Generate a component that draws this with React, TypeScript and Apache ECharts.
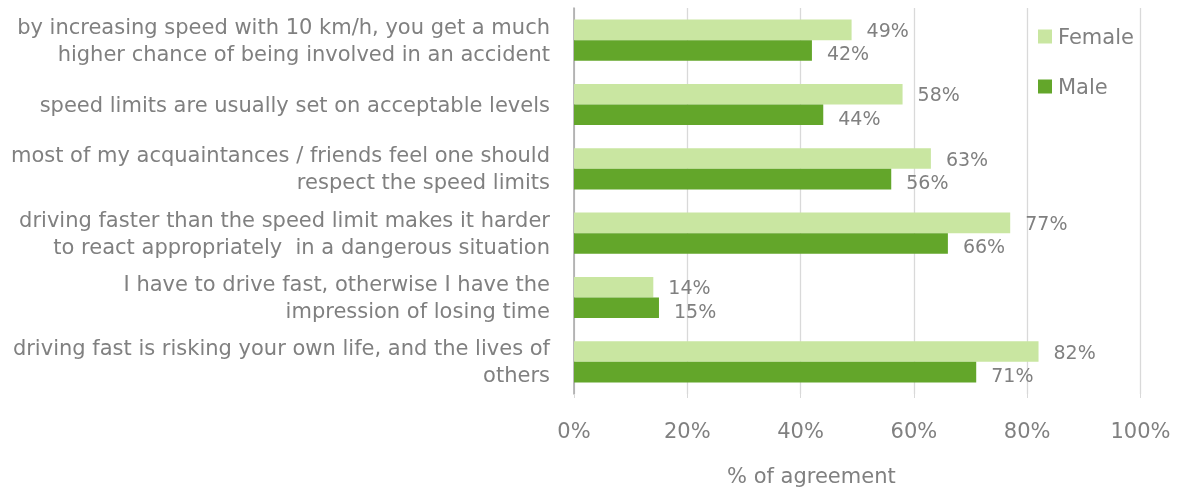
import React, { useEffect, useRef } from "react";
import * as echarts from "echarts";

const categories = [
  "by increasing speed with 10 km/h, you get a much\nhigher chance of being involved in an accident",
  "speed limits are usually set on acceptable levels",
  "most of my acquaintances / friends feel one should\nrespect the speed limits",
  "driving faster than the speed limit makes it harder\nto react appropriately  in a dangerous situation",
  "I have to drive fast, otherwise I have the\nimpression of losing time",
  "driving fast is risking your own life, and the lives of\nothers",
];
const female = [49, 58, 63, 77, 14, 82];
const male = [42, 44, 56, 66, 15, 71];
const seriesNames = ["Female", "Male"];
const axisTitle = "% of agreement";

const FONT = "DejaVu Sans, Verdana, sans-serif";
const GRAY = "#808080";
const FS = 21;

export default function App() {
  const ref = useRef<HTMLDivElement>(null);
  useEffect(() => {
    if (!ref.current) return;
    const chart = echarts.init(ref.current, null, { renderer: "svg" });
    const labelCfg = (dy: number) => ({
      show: true,
      position: "right",
      distance: 15,
      offset: [0, dy],
      formatter: (p: any) => p.value + "%",
      color: GRAY,
      fontSize: 19,
      fontFamily: FONT,
    });
    chart.setOption({
      animation: false,
      textStyle: { fontFamily: FONT },
      grid: {
        left: 574,
        top: 8,
        width: 566.5,
        height: 386,
        containLabel: false,
        outerBoundsMode: "none",
      },
      legend: {
        orient: "vertical",
        left: 1038,
        top: 26,
        padding: 0,
        icon: "rect",
        itemWidth: 14,
        itemHeight: 14,
        itemGap: 29,
        data: seriesNames,
        textStyle: { color: GRAY, fontSize: FS, fontFamily: FONT, padding: [0, 0, 0, 1] },
      },
      xAxis: {
        type: "value",
        min: 0,
        max: 100,
        interval: 20,
        axisLine: { show: false },
        axisTick: { show: true, length: 4, lineStyle: { color: "#D9D9D9" } },
        splitLine: { show: true, lineStyle: { color: "#D9D9D9", width: 1.3 } },
        axisLabel: {
          formatter: "{value}%",
          color: GRAY,
          fontSize: FS,
          fontFamily: FONT,
          margin: 26,
        },
      },
      yAxis: {
        type: "category",
        inverse: true,
        data: categories,
        axisLine: { show: true, lineStyle: { color: "#A6A6A6", width: 1.5 } },
        axisTick: { show: false },
        axisLabel: {
          color: GRAY,
          fontSize: FS,
          fontFamily: FONT,
          lineHeight: 27,
          margin: 24,
          align: "right",
          padding: [4, 0, 0, 0],
        },
      },
      graphic: [
        {
          type: "text",
          left: 727,
          top: 465,
          style: { text: axisTitle, fill: GRAY, fontSize: FS, fontFamily: FONT },
        },
      ],
      series: [
        {
          name: seriesNames[0],
          type: "bar",
          data: female,
          itemStyle: { color: "#C9E6A1" },
          barCategoryGap: "36%",
          barGap: "0%",
          label: labelCfg(0),
        },
        {
          name: seriesNames[1],
          type: "bar",
          data: male,
          itemStyle: { color: "#63A62A" },
          barCategoryGap: "36%",
          barGap: "0%",
          label: labelCfg(3),
        },
      ],
    });
    return () => chart.dispose();
  }, []);
  return (
    <div
      ref={ref}
      style={{ position: "fixed", left: 0, top: 0, width: 1178, height: 490 }}
    />
  );
}
